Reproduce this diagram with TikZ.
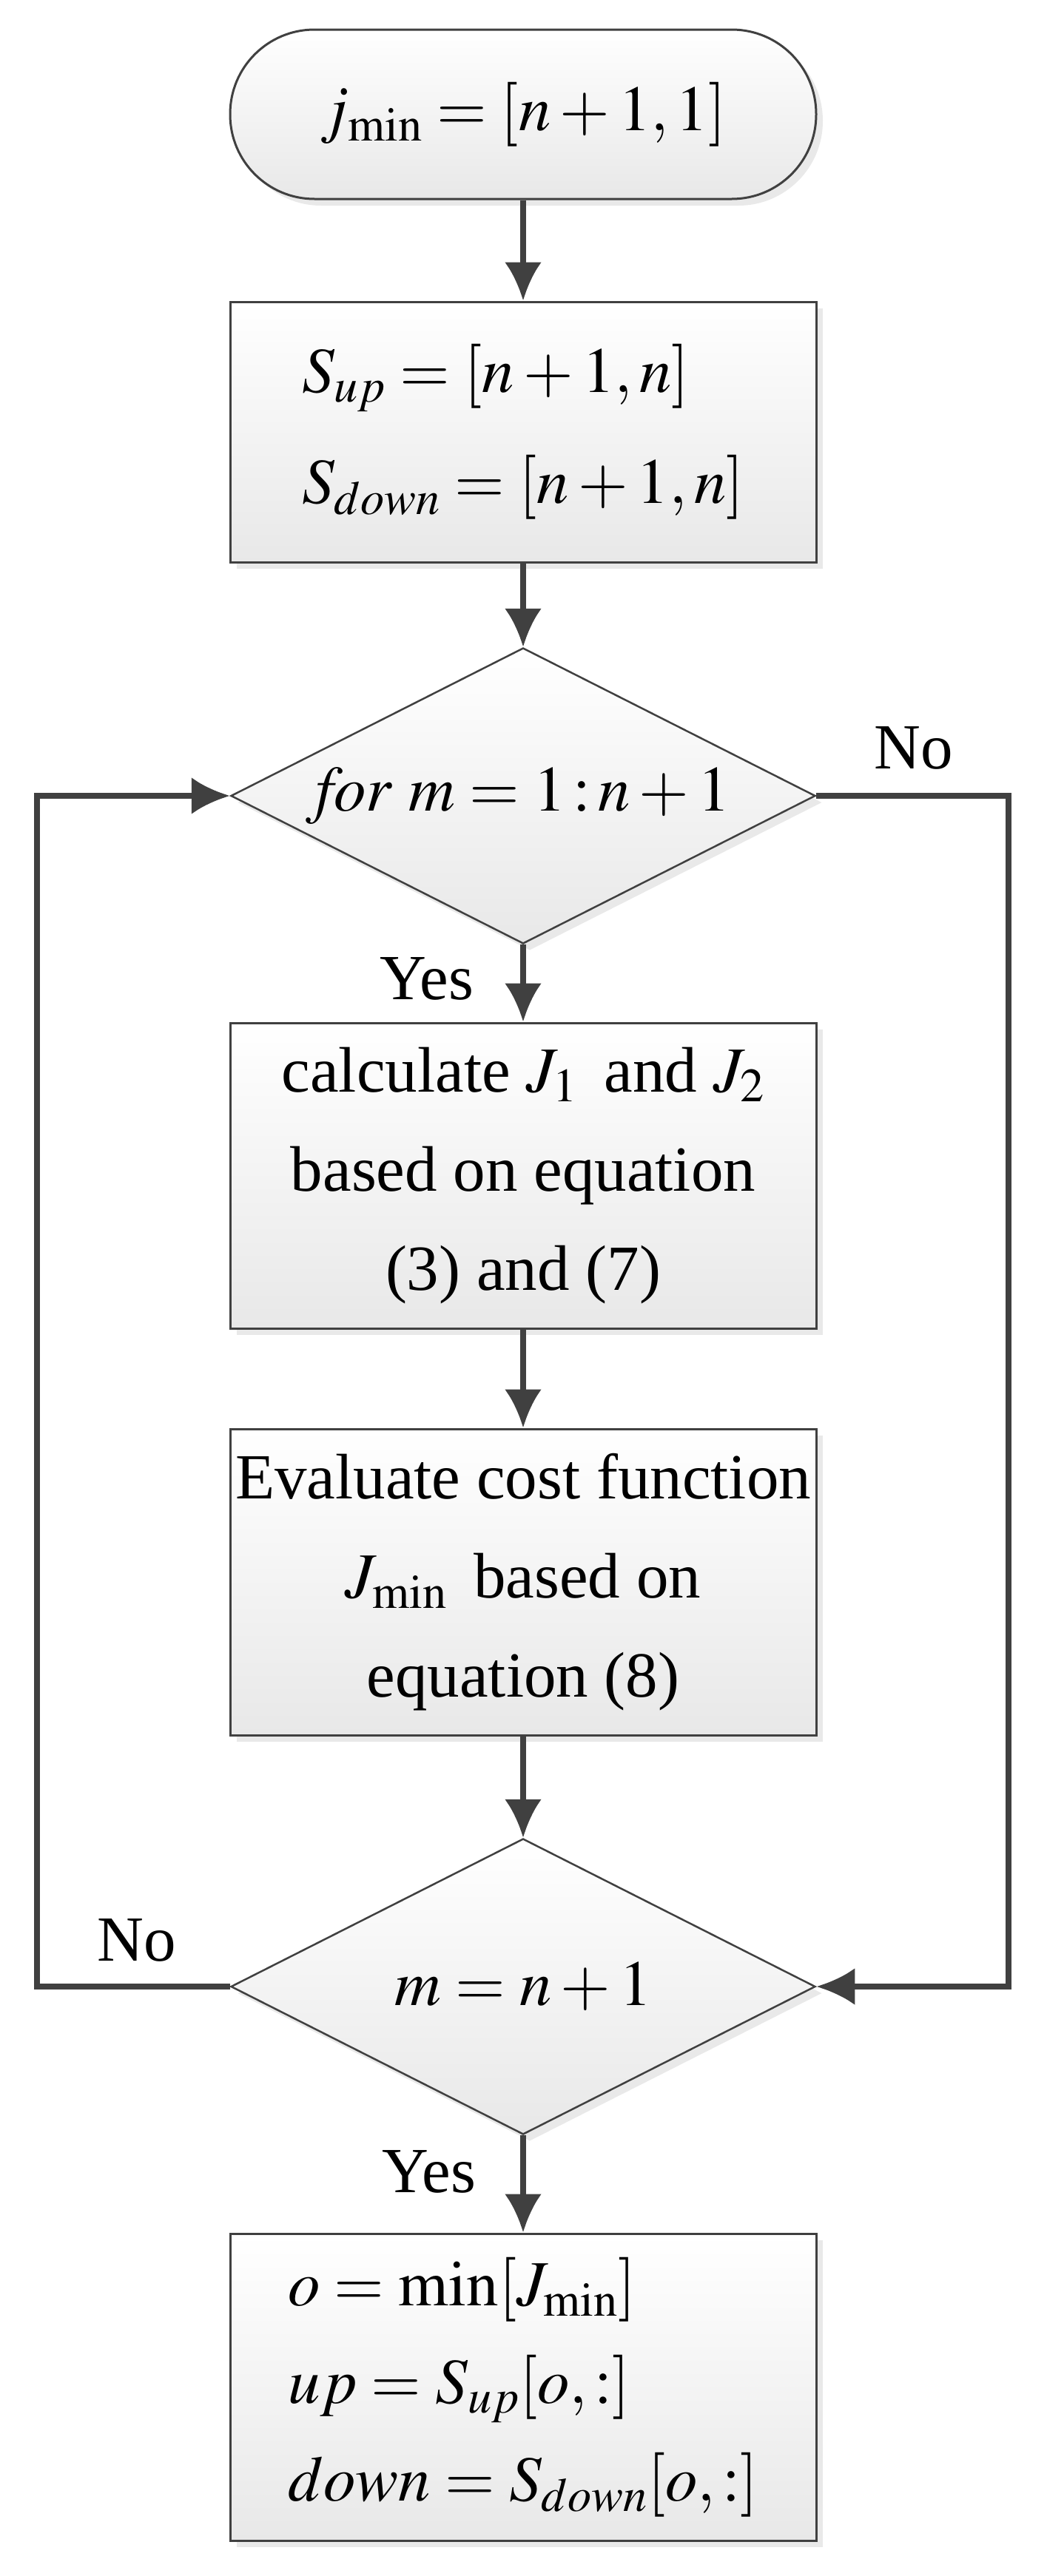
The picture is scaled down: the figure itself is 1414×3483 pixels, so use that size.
\documentclass[tikz,border=0pt]{standalone}
\usepackage{mathptmx}
\usepackage[no-math]{fontspec}
\setmainfont{Liberation Serif}
\usetikzlibrary{arrows.meta,shapes.geometric,shadows}
\definecolor{lc}{HTML}{404040}
\tikzset{
  base/.style={draw=lc, top color=white, bottom color=black!9,
    drop shadow={shadow xshift=9pt, shadow yshift=-9pt, fill=black!14, opacity=0.6},
    font=\fontsize{87}{134}\selectfont, inner sep=0pt},
  term/.style={base, line width=3pt, rounded corners=114pt, minimum width=792pt, minimum height=229pt},
  procbox/.style={base, line width=3pt, minimum width=792pt, align=center},
  decide/.style={base, line width=2.5pt, diamond, aspect=1.975, minimum width=790pt, minimum height=400pt},
  conn/.style={draw=lc, line width=7.5pt, -{Latex[length=52pt,width=50pt]}},
  lbl/.style={font=\fontsize{87}{100}\selectfont, inner sep=0pt, anchor=base},
}
\begin{document}
\begin{tikzpicture}[x=1pt,y=-1pt]
\useasboundingbox (0,0) rectangle (1414,3483);
\node[term] (start) at (707,154.5) {$j_{\min} = [n+1,1]$};
\node[procbox, minimum height=352pt, align=left, font=\fontsize{87}{150}\selectfont] (init) at (707,584)
  {$S_{up} = [n+1, n]$\\$S_{down} = [n+1, n]$};
\node[decide] (loop) at (707,1076) {$\mathit{for}\ m = 1\,{:}\,n+1$};
\node[procbox, minimum height=413pt] (calc) at (707,1589.5)
  {calculate $J_{1}$\, and $J_{2}$\\based on equation\\(3) and (7)};
\node[procbox, minimum height=414pt] (eval) at (707,2139)
  {Evaluate cost function\\$J_{\min}$\, based on\\equation (8)};
\node[decide] (check) at (707,2686) {$m = n+1$};
\node[procbox, minimum height=415pt, align=left, font=\fontsize{87}{132}\selectfont] (result) at (707,3227.5)
  {$o = \min[J_{\min}]$\\$up = S_{up}[o,:]$\\$down = S_{down}[o,:]$};
\node[lbl] (no1) at (1235,1039) {No};
\node[lbl] (yes1) at (577,1351) {Yes};
\node[lbl] (no2) at (185,2651) {No};
\node[lbl] (yes2) at (580,2964) {Yes};
\coordinate (rtop) at (1363,1076);
\coordinate (rbot) at (1363,2686);
\coordinate (ltop) at (50,1076);
\coordinate (lbot) at (50,2686);
\draw[conn] (start) -- (init);
\draw[conn] (init) -- (loop);
\draw[conn] (loop) -- (calc);
\draw[conn] (calc) -- (eval);
\draw[conn] (eval) -- (check);
\draw[conn] (check) -- (result);
\draw[conn] (loop.east) -- (rtop) -- (rbot) -- (check.east);
\draw[conn] (check.west) -- (lbot) -- (ltop) -- (loop.west);
\end{tikzpicture}
\end{document}
